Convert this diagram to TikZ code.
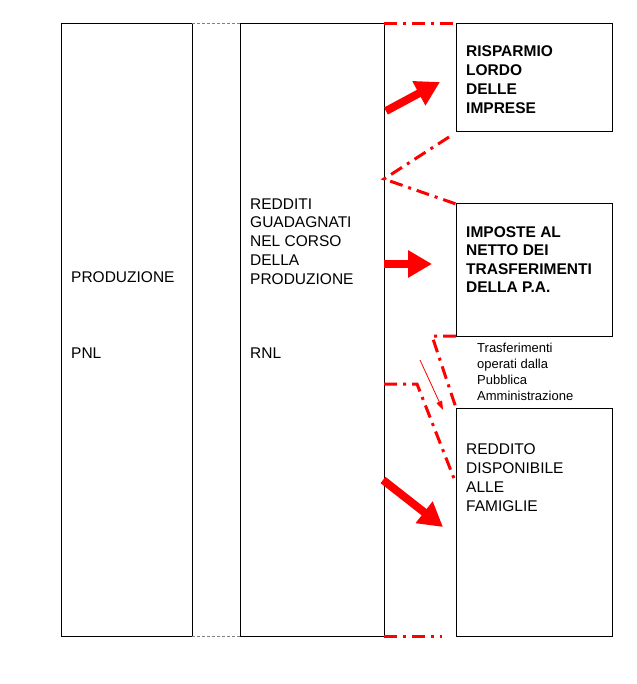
\documentclass[tikz,border=0pt]{standalone}
\usepackage{fontspec}
\setmainfont{Liberation Sans}
\usetikzlibrary{arrows.meta}
\begin{document}
\begin{tikzpicture}[x=1pt,y=-1pt,
  box/.style={draw=black, line width=1pt, anchor=north west, inner sep=0pt, outer sep=0pt},
  lbl/.style={anchor=north west, inner sep=0pt, align=left, font=\fontsize{15.5}{18.7}\selectfont},
  one/.style={anchor=west, inner sep=0pt, font=\fontsize{15.5}{18.7}\selectfont},
  small/.style={anchor=north west, inner sep=0pt, align=left, font=\fontsize{13}{15.7}\selectfont},
  rd/.style={draw=red, line width=3pt, dash pattern=on 13pt off 6pt on 3pt off 6pt},
  fat/.style={draw=red, line width=8pt, -{Triangle[length=24pt,width=26pt]}},
  gd/.style={draw=gray, line width=1pt, dash pattern=on 3pt off 2pt},
]
\useasboundingbox (0,0) rectangle (636,684);
\fill[white] (0,0) rectangle (636,684);
% boxes
\node (pro) [box, minimum width=131pt, minimum height=612pt] at (61,24) {};
\node (rnl) [box, minimum width=144pt, minimum height=612pt] at (240,24) {};
\node (ris) [box, minimum width=156pt, minimum height=108pt] at (456,24) {};
\node (imp) [box, minimum width=156pt, minimum height=132pt] at (456,204) {};
\node (rdf) [box, minimum width=156pt, minimum height=228pt] at (456,408) {};
% gray dashed joins
\draw[gd] (pro.north east) -- (rnl.north west);
\draw[gd] (pro.south east) -- (rnl.south west);
% texts
\node (tpro) [one] at (71,277) {PRODUZIONE};
\node (tpnl) [one] at (71,353) {PNL};
\node (tred) [lbl] at (250,198.4) {REDDITI\\GUADAGNATI\\NEL CORSO\\DELLA\\PRODUZIONE};
\node (trnl) [one] at (250,353) {RNL};
\node (tris) [lbl, font=\fontsize{15.5}{18.9}\selectfont\bfseries] at (466,45.4) {RISPARMIO\\LORDO\\DELLE\\IMPRESE};
\node (timp) [lbl, font=\fontsize{15.5}{18.5}\selectfont\bfseries] at (466,226.4) {IMPOSTE AL\\NETTO DEI\\TRASFERIMENTI\\DELLA P.A.};
\node (trdf) [lbl, font=\fontsize{15.5}{19}\selectfont] at (466,443.4) {REDDITO\\DISPONIBILE\\ALLE\\FAMIGLIE};
\node (ttra) [small] at (477,343.3) {Trasferimenti\\operati dalla\\Pubblica\\Amministrazione};
% coordinates
\coordinate (bot) at (442,636);
\coordinate (v1) at (449,137);
\coordinate (v2) at (384,179);
\coordinate (a1) at (432,336);
\coordinate (b0) at (384,384);
\coordinate (b1) at (417,384);
\coordinate (b2) at (455,481);
\coordinate (s0) at (420,360);
\coordinate (s1) at (443,410);
\coordinate (f1a) at (386,111);
\coordinate (f1b) at (440,82);
\coordinate (f2a) at (384,264);
\coordinate (f2b) at (432,264);
\coordinate (f3a) at (383,480);
\coordinate (f3b) at (443,527);
% red dash-dot lines
\draw[rd] (rnl.north east) -- (ris.north west);
\draw[rd] (rnl.south east) -- (bot);
\draw[rd] (v1) -- (v2) -- (imp.north west);
\draw[rd] (imp.south west) -- (a1) -- (rdf.north west);
\draw[rd] (b0) -- (b1) -- (b2);
% thin arrow
\draw[red, line width=0.8pt, -{Triangle[length=9pt,width=6pt]}] (s0) -- (s1);
% fat arrows
\draw[fat] (f1a) -- (f1b);
\draw[fat] (f2a) -- (f2b);
\draw[fat] (f3a) -- (f3b);
\end{tikzpicture}
\end{document}
